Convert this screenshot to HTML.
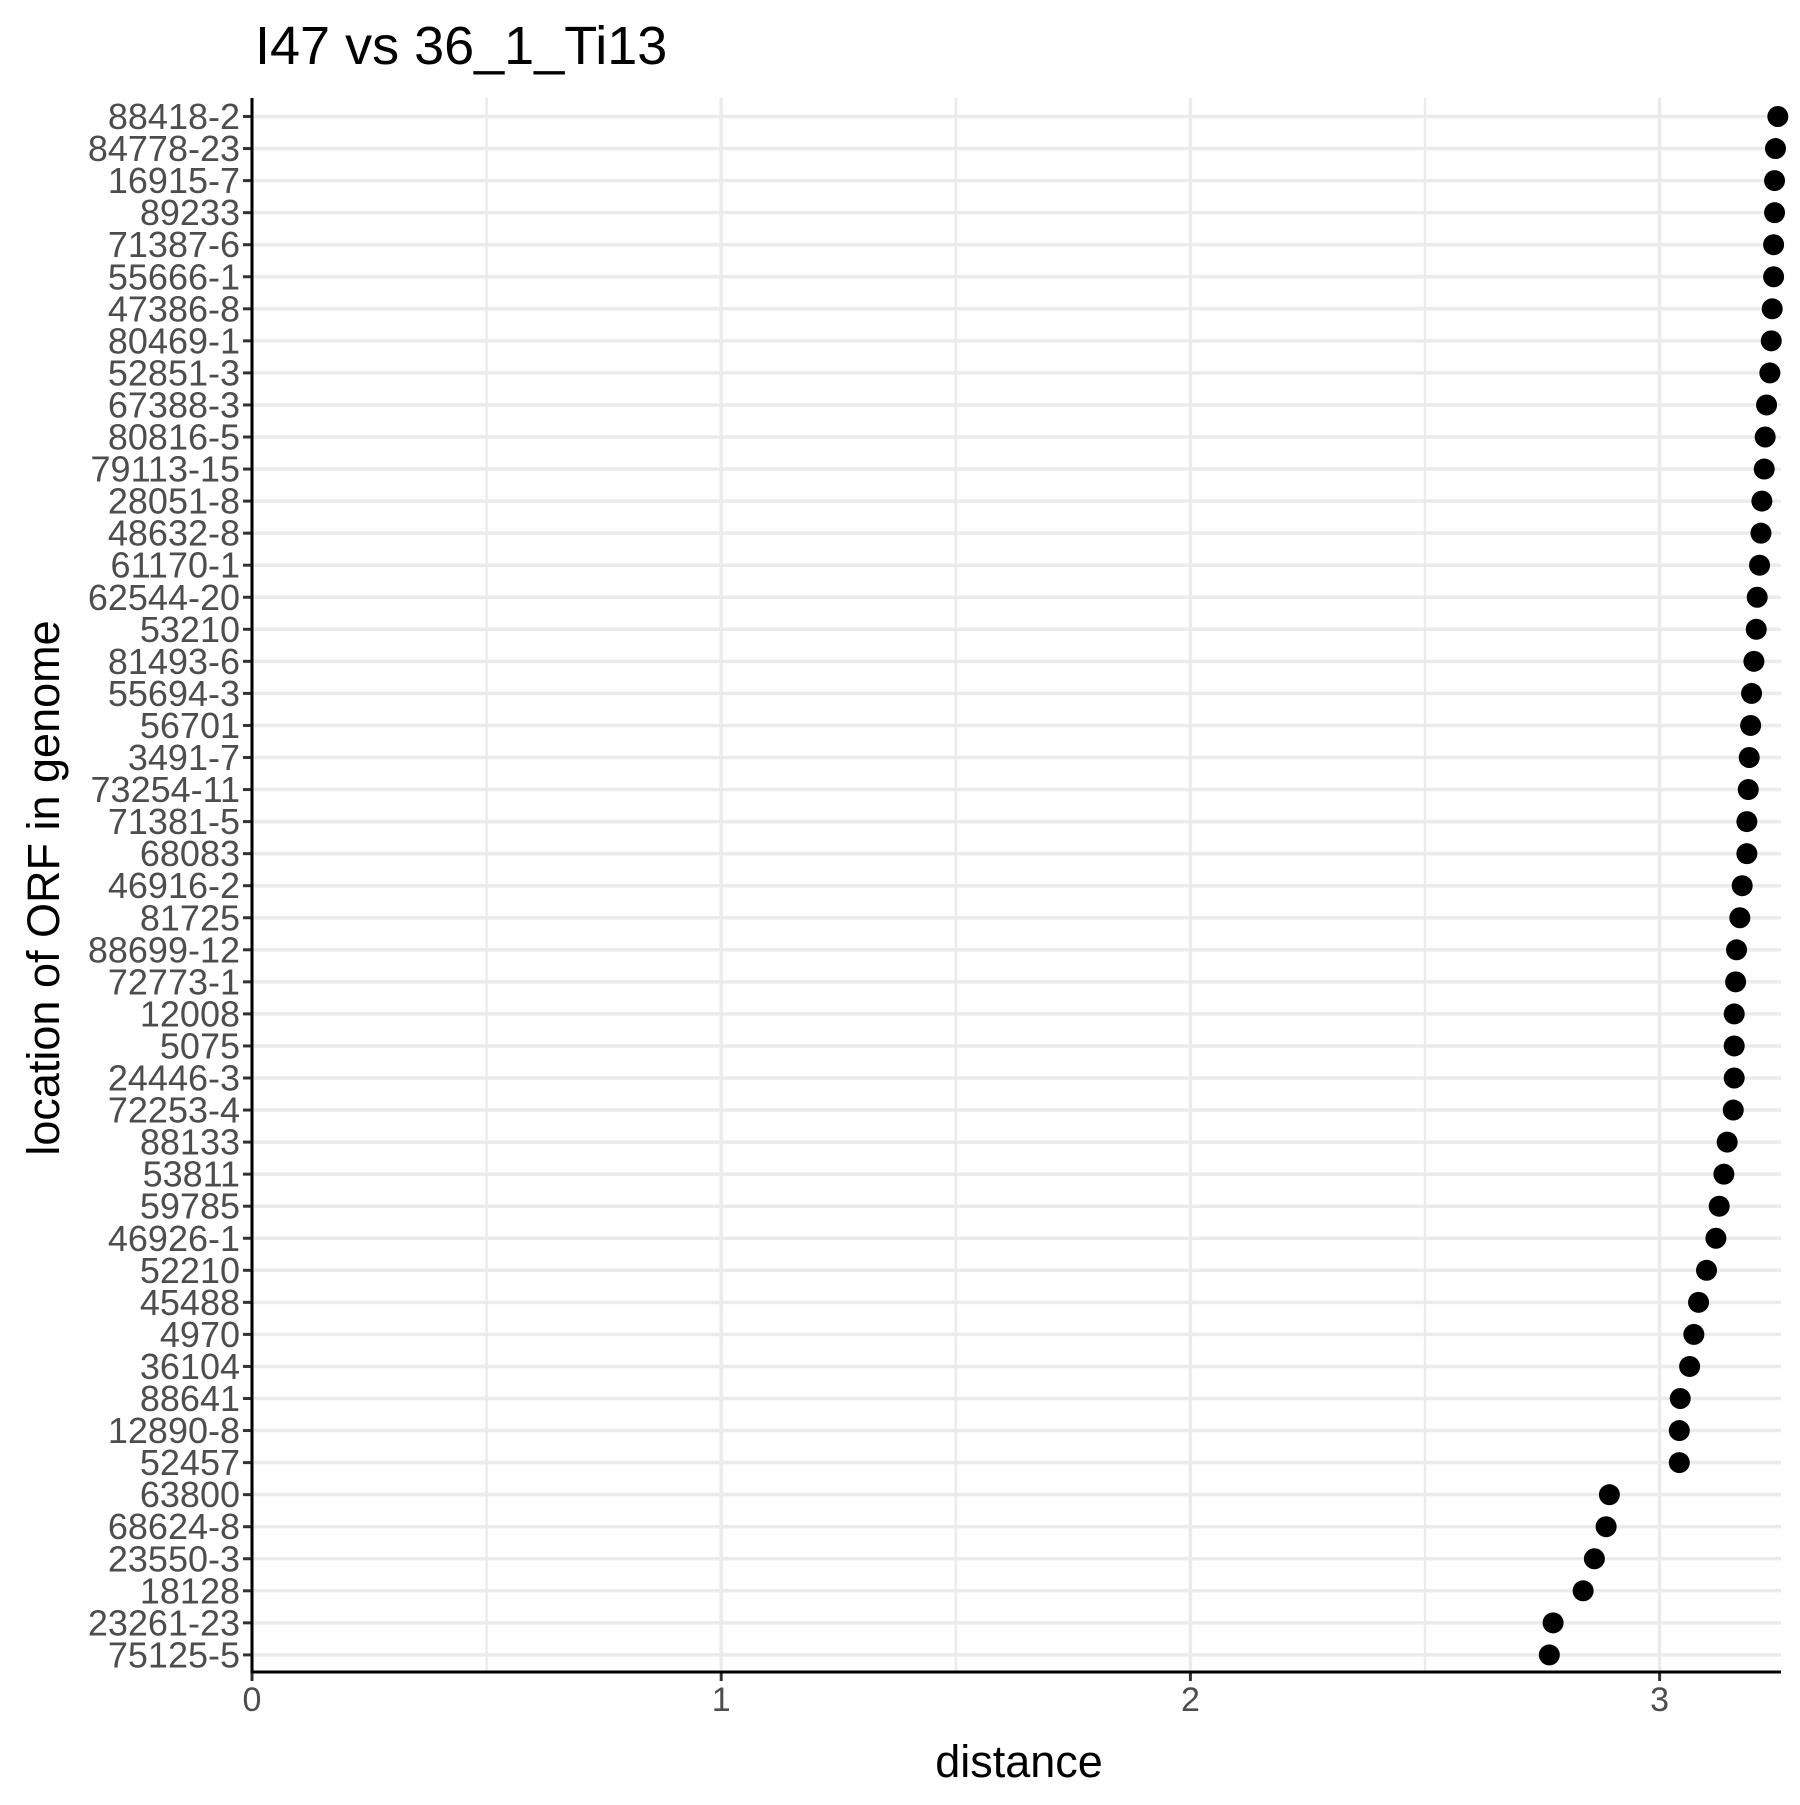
<!DOCTYPE html>
<html><head><meta charset="utf-8"><style>
body{margin:0;background:#fff}
svg text{font-family:"Liberation Sans",Arial,sans-serif}
</style></head><body>
<svg id="chart" width="1800" height="1800" xmlns="http://www.w3.org/2000/svg">
<rect width="1800" height="1800" fill="#fff"/>
<text x="255" y="64" font-size="54" fill="#000">I47 vs 36_1_Ti13</text>
<g id="grid"></g><g id="marks"></g><g id="axes"></g>
<text x="1019" y="1777" font-size="45" text-anchor="middle" fill="#000">distance</text>
<text transform="translate(59,888) rotate(-90)" font-size="45" text-anchor="middle" fill="#000">location of ORF in genome</text>
</svg>
<script>
const categories=["88418-2","84778-23","16915-7","89233","71387-6","55666-1","47386-8","80469-1","52851-3","67388-3","80816-5","79113-15","28051-8","48632-8","61170-1","62544-20","53210","81493-6","55694-3","56701","3491-7","73254-11","71381-5","68083","46916-2","81725","88699-12","72773-1","12008","5075","24446-3","72253-4","88133","53811","59785","46926-1","52210","45488","4970","36104","88641","12890-8","52457","63800","68624-8","23550-3","18128","23261-23","75125-5"];
const distances=[3.252,3.247,3.245,3.245,3.243,3.243,3.240,3.238,3.235,3.228,3.225,3.223,3.218,3.216,3.213,3.208,3.206,3.201,3.196,3.194,3.191,3.189,3.186,3.186,3.176,3.171,3.164,3.162,3.159,3.159,3.159,3.157,3.144,3.137,3.127,3.120,3.100,3.083,3.073,3.064,3.044,3.042,3.042,2.893,2.886,2.861,2.837,2.773,2.765];
const xTicks=[0,1,2,3];
const xMinor=[0.5,1.5,2.5];
const NS="http://www.w3.org/2000/svg";
const L=252,R=1781,T=98,B=1672;
const x=v=>L+v*469.2;
const y=i=>116.5+i*32.05;
function mk(tag,attrs,parent){const e=document.createElementNS(NS,tag);for(const k in attrs)e.setAttribute(k,attrs[k]);parent.appendChild(e);return e;}
const grid=document.getElementById('grid'),marks=document.getElementById('marks'),axes=document.getElementById('axes');
xMinor.forEach(v=>{const l=mk('line',{x1:x(v),x2:x(v),y1:T,y2:B,stroke:'#ebebeb','stroke-width':2.5},grid);

});
xTicks.forEach(v=>{const l=mk('line',{x1:x(v),x2:x(v),y1:T,y2:B,stroke:'#ebebeb','stroke-width':3.5},grid);


const t=mk('line',{x1:x(v),x2:x(v),y1:B,y2:B+9,stroke:'#333','stroke-width':3},axes);


const tx=mk('text',{x:x(v),y:B+39,'font-size':34,'text-anchor':'middle',fill:'#4d4d4d'},axes);tx.textContent=v;

});
categories.forEach((c,i)=>{const yy=y(i);
const g=mk('line',{x1:L,x2:R,y1:yy,y2:yy,stroke:'#ebebeb','stroke-width':3.5},grid);


const d=mk('circle',{cx:x(distances[i]),cy:yy,r:10.5,fill:'#000'},marks);


const t=mk('line',{x1:L-9,x2:L,y1:yy,y2:yy,stroke:'#333','stroke-width':3},axes);


const tx=mk('text',{x:L-12,y:yy+12.5,'font-size':36,'text-anchor':'end',fill:'#4d4d4d'},axes);tx.textContent=c;

});
const ax=mk('line',{x1:L,x2:R,y1:B,y2:B,stroke:'#000','stroke-width':3},axes);


const ay=mk('line',{x1:L,x2:L,y1:T,y2:B+1.5,stroke:'#000','stroke-width':3},axes);


</script>
</body></html>
